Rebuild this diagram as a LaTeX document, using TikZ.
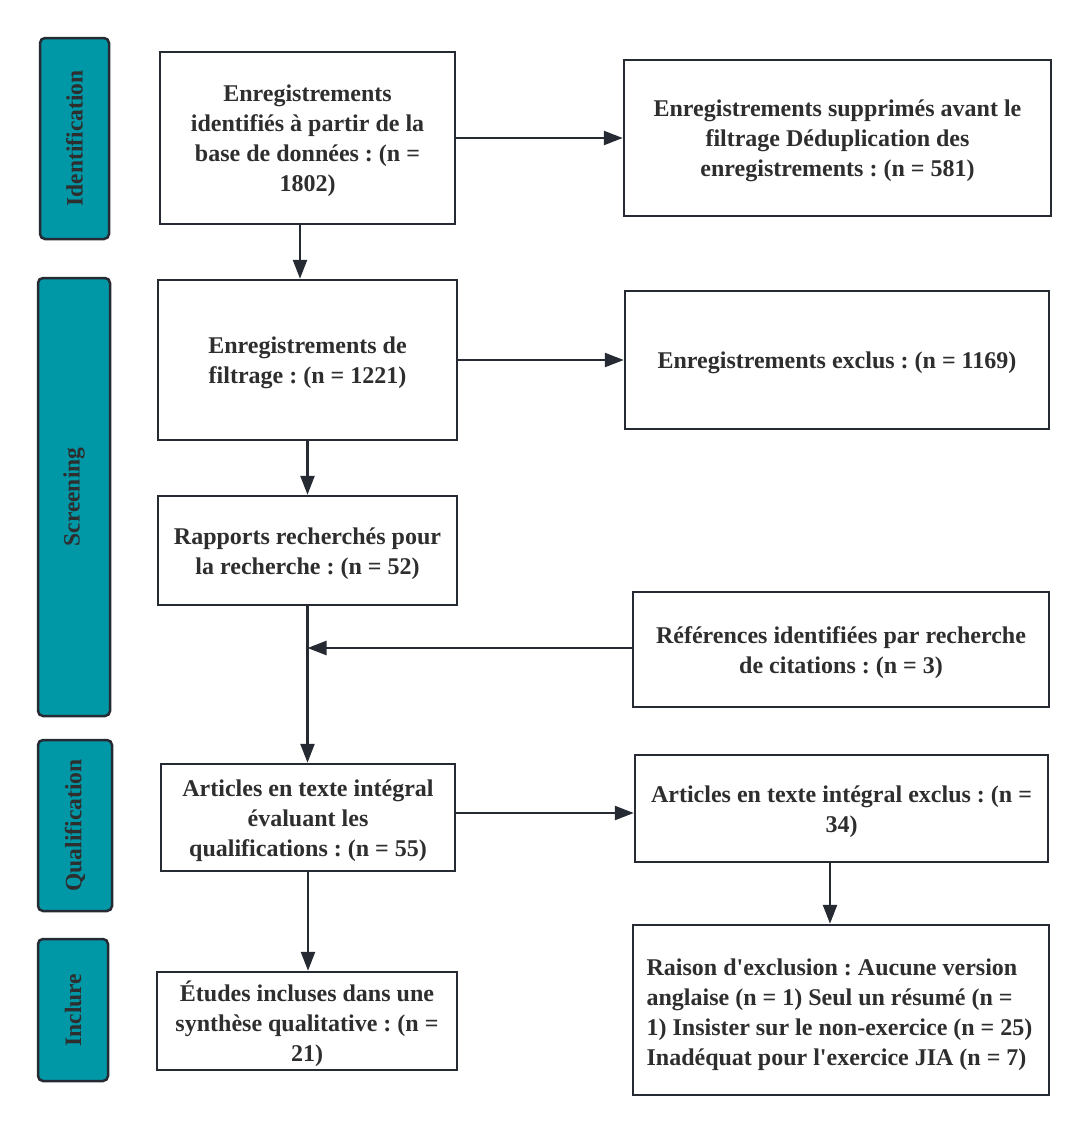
\documentclass[tikz,border=0pt]{standalone}
\usepackage{fontspec}
\newfontfamily\dfont{Liberation Serif}
\usetikzlibrary{arrows.meta}
\definecolor{edgec}{HTML}{262B33}
\definecolor{tealc}{HTML}{0097A7}
\definecolor{txtc}{HTML}{2E2E2E}
\frenchspacing
\begin{document}
\begin{tikzpicture}[x=1pt,y=-1pt,
  box/.style={draw=edgec, line width=2.5pt, fill=white, inner sep=0pt},
  lbl/.style={align=center, text=txtc, inner sep=0pt, yshift=-3pt,
    font=\dfont\bfseries\fontsize{24}{30}\selectfont\frenchspacing},
  phase/.style={draw=edgec, fill=tealc, rounded corners=5pt, line width=2.5pt, inner sep=0pt},
  plbl/.style={rotate=90, text=txtc, font=\dfont\bfseries\fontsize{23.5}{30}\selectfont},
  arr/.style={draw=edgec, line width=2.5pt, -{Triangle[length=19pt,width=14pt]}}]
\useasboundingbox (0,0) rectangle (1088,1133);
\fill[white] (0,0) rectangle (1088,1133);
% phases
\node[phase, minimum width=69, minimum height=201] (p1) at (74.5,138.5) {};
\node[plbl] (p1t) at (p1) {Identification};
\node[phase, minimum width=72, minimum height=438] (p2) at (74,497) {};
\node[plbl] (p2t) at (p2) {Screening};
\node[phase, minimum width=74, minimum height=171] (p3) at (75,825.5) {};
\node[plbl] (p3t) at (p3) {Qualification};
\node[phase, minimum width=70, minimum height=142] (p4) at (73,1010) {};
\node[plbl] (p4t) at (p4) {Inclure};
% boxes
\node[box, minimum width=295, minimum height=172] (A) at (307.5,138) {};
\node[lbl] (At) at (A) {Enregistrements\\identifiés à partir de la\\base de données : (n =\\1802)};
\node[box, minimum width=427, minimum height=156] (B) at (837.5,138) {};
\node[lbl] (Bt) at (B) {Enregistrements supprimés avant le\\filtrage Déduplication des\\enregistrements : (n = 581)};
\node[box, minimum width=299, minimum height=160] (C) at (307.5,360) {};
\node[lbl] (Ct) at (C) {Enregistrements de\\filtrage : (n = 1221)};
\node[box, minimum width=424, minimum height=138] (D) at (837,360) {};
\node[lbl] (Dt) at (D) {Enregistrements exclus : (n = 1169)};
\node[box, minimum width=299, minimum height=109] (E) at (307.5,550.5) {};
\node[lbl] (Et) at (E) {Rapports recherchés pour\\la recherche : (n = 52)};
\node[box, minimum width=416, minimum height=115] (F) at (841,649.5) {};
\node[lbl] (Ft) at (F) {Références identifiées par recherche\\de citations : (n = 3)};
\node[box, minimum width=294, minimum height=107] (G) at (308,817.5) {};
\node[lbl] (Gt) at (G) {Articles en texte intégral\\évaluant les\\qualifications : (n = 55)};
\node[box, minimum width=413, minimum height=107] (H) at (841.5,808.5) {};
\node[lbl] (Ht) at (H) {Articles en texte intégral exclus : (n =\\34)};
\node[box, minimum width=300, minimum height=98] (I) at (307,1021) {};
\node[lbl] (It) at (I) {Études incluses dans une\\synthèse qualitative : (n =\\21)};
\node[box, minimum width=416, minimum height=170] (J) at (841,1010) {};
\node[lbl, align=left, yshift=-2pt, xshift=-1.5pt] (Jt) at (J) {Raison d'exclusion : Aucune version\\anglaise (n = 1) Seul un résumé (n =\\1) Insister sur le non-exercice (n = 25)\\Inadéquat pour l'exercice JIA (n = 7)};
% connectors
\draw[arr] (A.east) -- (B.west);
\draw[arr] (A.south -| 300,0) -- (C.north -| 300,0);
\draw[arr] (C.east) -- (D.west);
\draw[arr] (C.south) -- (E.north);
\draw[arr] (E.south) -- (G.north -| E.south);
\coordinate (m) at (E.south |- 0,648);
\draw[arr] (F.west |- m) -- (m);
\draw[arr] (G.east |- 0,813) -- (H.west |- 0,813);
\draw[arr] (G.south) -- (I.north -| G.south);
\draw[arr] (H.south -| 830,0) -- (J.north -| 830,0);
\end{tikzpicture}
\end{document}
